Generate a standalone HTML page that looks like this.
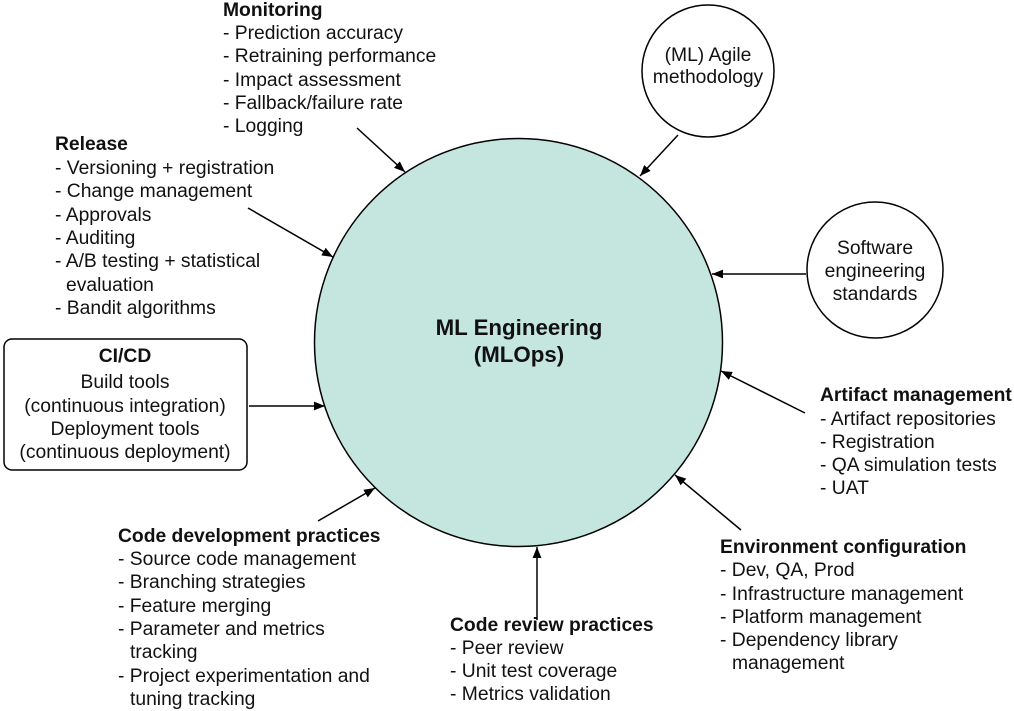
<!DOCTYPE html>
<html><head><meta charset="utf-8"><style>
html,body{margin:0;padding:0;background:#fff;}
svg{display:block;}
text{font-family:"Liberation Sans",Arial,sans-serif;font-size:19.3px;fill:#111;}
.b{font-weight:bold;}
</style></head><body>
<svg width="1014" height="711" viewBox="0 0 1014 711" xmlns="http://www.w3.org/2000/svg">
<defs><marker id="a" viewBox="0 0 10 10" refX="10" refY="5" markerWidth="11" markerHeight="11" markerUnits="userSpaceOnUse" orient="auto"><path d="M0,1 L10,5 L0,9 z" fill="#000"/></marker></defs>
<circle cx="518.5" cy="342.5" r="204" fill="#c5e6df" stroke="#000" stroke-width="1.5"/>
<circle cx="708" cy="71" r="66" fill="#fff" stroke="#000" stroke-width="1.5"/>
<circle cx="875" cy="270" r="68" fill="#fff" stroke="#000" stroke-width="1.5"/>
<rect x="4" y="339" width="243" height="131" rx="8" fill="#fff" stroke="#000" stroke-width="1.5"/>
<g stroke="#000" stroke-width="1.5" marker-end="url(#a)">
<line x1="357" y1="128" x2="405" y2="172"/>
<line x1="248" y1="208" x2="333" y2="257"/>
<line x1="249" y1="406" x2="325" y2="406"/>
<line x1="318" y1="521" x2="375" y2="488"/>
<line x1="537" y1="620" x2="537" y2="547"/>
<line x1="741" y1="530" x2="675" y2="475"/>
<line x1="805" y1="413" x2="721" y2="371"/>
<line x1="806" y1="274" x2="712" y2="274"/>
<line x1="678" y1="135" x2="640" y2="176"/>
</g>
<text x="519" y="335" text-anchor="middle" class="b" style="font-size:22.3px">ML Engineering</text>
<text x="519" y="362" text-anchor="middle" class="b" style="font-size:22.3px">(MLOps)</text>
<text x="708" y="61" text-anchor="middle">(ML) Agile</text>
<text x="708" y="83" text-anchor="middle">methodology</text>
<text x="875" y="254" text-anchor="middle">Software</text>
<text x="875" y="277" text-anchor="middle">engineering</text>
<text x="875" y="300" text-anchor="middle">standards</text>
<text x="223" y="16" class="b">Monitoring</text>
<text x="223" y="39">- Prediction accuracy</text>
<text x="223" y="62">- Retraining performance</text>
<text x="223" y="86">- Impact assessment</text>
<text x="223" y="109">- Fallback/failure rate</text>
<text x="223" y="132">- Logging</text>
<text x="55" y="150" class="b">Release</text>
<text x="55" y="174">- Versioning + registration</text>
<text x="55" y="197">- Change management</text>
<text x="55" y="221">- Approvals</text>
<text x="55" y="244">- Auditing</text>
<text x="55" y="267">- A/B testing + statistical</text>
<text x="66" y="291">evaluation</text>
<text x="55" y="314">- Bandit algorithms</text>
<text x="125" y="362" text-anchor="middle" class="b">CI/CD</text>
<text x="125" y="388" text-anchor="middle">Build tools</text>
<text x="125" y="412" text-anchor="middle">(continuous integration)</text>
<text x="125" y="435" text-anchor="middle">Deployment tools</text>
<text x="125" y="458" text-anchor="middle">(continuous deployment)</text>
<text x="118" y="542" class="b">Code development practices</text>
<text x="118" y="565">- Source code management</text>
<text x="118" y="588">- Branching strategies</text>
<text x="118" y="612">- Feature merging</text>
<text x="118" y="635">- Parameter and metrics</text>
<text x="130" y="658">tracking</text>
<text x="118" y="682">- Project experimentation and</text>
<text x="130" y="705">tuning tracking</text>
<text x="450" y="631" class="b">Code review practices</text>
<text x="450" y="654">- Peer review</text>
<text x="450" y="677">- Unit test coverage</text>
<text x="450" y="700">- Metrics validation</text>
<text x="720" y="553" class="b">Environment configuration</text>
<text x="720" y="576">- Dev, QA, Prod</text>
<text x="720" y="600">- Infrastructure management</text>
<text x="720" y="623">- Platform management</text>
<text x="720" y="646">- Dependency library</text>
<text x="732" y="669">management</text>
<text x="820" y="401" class="b">Artifact management</text>
<text x="820" y="425">- Artifact repositories</text>
<text x="820" y="448">- Registration</text>
<text x="820" y="471">- QA simulation tests</text>
<text x="820" y="494">- UAT</text>
</svg>
</body></html>
